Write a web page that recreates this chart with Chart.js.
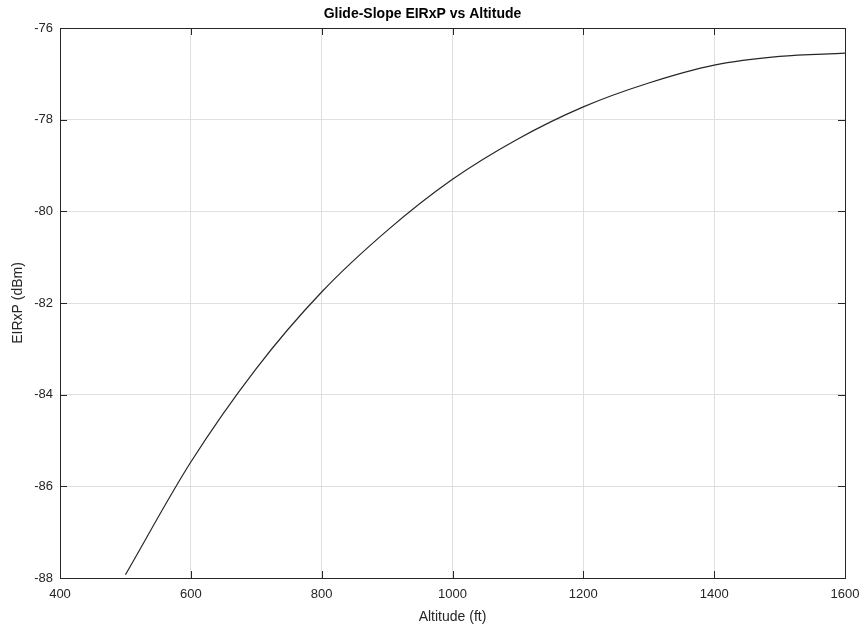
<!DOCTYPE html>
<html>
<head>
<meta charset="utf-8">
<script src="https://cdn.jsdelivr.net/npm/chart.js@4.4.1/dist/chart.umd.min.js"></script>
<style>
  html, body { margin: 0; padding: 0; background: #fff; }
  #wrap { width: 866px; height: 632px; }
</style>
</head>
<body>
<div id="wrap"><canvas id="chart" width="866" height="632"></canvas></div>
<script>
"use strict"

// Values
const altitude = [500, 600, 700, 800, 900, 1000, 1100, 1200, 1300, 1400, 1500, 1600];
const elrxp = [-87.93, -85.47, -83.43, -81.76, -80.42, -79.30, -78.42, -77.72, -77.20, -76.81, -76.62, -76.55];
const xTicks = [400, 600, 800, 1000, 1200, 1400, 1600];
const yTicks = [-88, -86, -84, -82, -80, -78, -76];

const axisColor = '#262626';
const gridColor = '#dfdfdf';
const font = 'Liberation Sans, Arial, Helvetica, sans-serif';

// Draws the box around the plot and the inward tick marks, like MATLAB does
const framePlugin = {
    id: 'frame',
    afterDatasetsDraw(chart) {
        const ctx = chart.ctx;
        const a = chart.chartArea;
        const xs = chart.scales.x;
        const ys = chart.scales.y;
        const len = 7;
        ctx.save();
        ctx.strokeStyle = axisColor;
        ctx.lineWidth = 1;
        ctx.beginPath();
        xTicks.forEach(v => {
            const px = Math.round(xs.getPixelForValue(v)) + 0.5;
            ctx.moveTo(px, a.bottom);
            ctx.lineTo(px, a.bottom - len);
            ctx.moveTo(px, a.top);
            ctx.lineTo(px, a.top + len);
        });
        yTicks.forEach(v => {
            const py = Math.round(ys.getPixelForValue(v)) + 0.5;
            ctx.moveTo(a.left, py);
            ctx.lineTo(a.left + len, py);
            ctx.moveTo(a.right, py);
            ctx.lineTo(a.right - len, py);
        });
        ctx.stroke();
        ctx.strokeRect(Math.round(a.left) + 0.5, Math.round(a.top) + 0.5,
            Math.round(a.right - a.left), Math.round(a.bottom - a.top));
        ctx.restore();
    }
};

new Chart(document.getElementById('chart'), {
    type: 'line',
    data: {
        datasets: [{
            data: altitude.map((x, i) => ({ x: x, y: elrxp[i] })),
            borderColor: '#262626',
            borderWidth: 1.2,
            pointRadius: 0,
            cubicInterpolationMode: 'monotone',
            fill: false
        }]
    },
    options: {
        responsive: false,
        animation: false,
        layout: { padding: { left: 0, right: 21, top: 0, bottom: 0 } },
        plugins: {
            legend: { display: false },
            tooltip: { enabled: false },
            title: {
                display: true,
                text: 'Glide-Slope EIRxP vs Altitude',
                color: '#000',
                font: { family: font, size: 14, weight: 'bold' },
                padding: { top: 6, bottom: 5.2 }
            }
        },
        scales: {
            x: {
                type: 'linear',
                min: 400,
                max: 1600,
                afterBuildTicks: s => { s.ticks = xTicks.map(v => ({ value: v })); },
                afterFit: s => { s.height = 54; s.paddingLeft = 0; s.paddingRight = 0; },
                grid: { color: gridColor, drawTicks: false },
                border: { display: false },
                ticks: {
                    color: axisColor,
                    padding: 9,
                    font: { family: font, size: 13 },
                    callback: v => String(v)
                },
                title: {
                    display: true,
                    text: 'Altitude (ft)',
                    color: axisColor,
                    font: { family: font, size: 14 },
                    padding: { top: 0, bottom: 6 }
                }
            },
            y: {
                min: -88,
                max: -76,
                afterBuildTicks: s => { s.ticks = yTicks.map(v => ({ value: v })); },
                afterFit: s => { s.width = 60; },
                grid: { color: gridColor, drawTicks: false },
                border: { display: false },
                ticks: {
                    color: axisColor,
                    padding: 7,
                    font: { family: font, size: 13 },
                    callback: v => String(v)
                },
                title: {
                    display: true,
                    text: 'EIRxP (dBm)',
                    color: axisColor,
                    font: { family: font, size: 14 },
                    padding: { top: 10, bottom: 0 }
                }
            }
        }
    },
    plugins: [framePlugin]
});
</script>
</body>
</html>
